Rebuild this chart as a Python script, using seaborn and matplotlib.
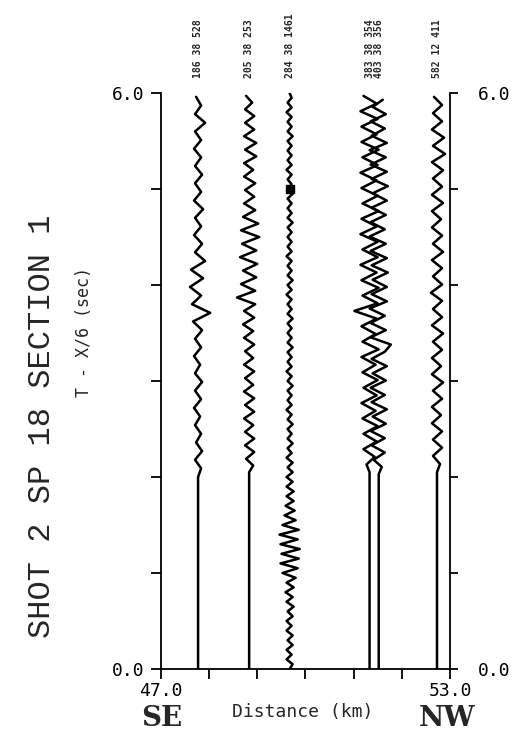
import numpy as np
import pandas as pd
import seaborn as sns
import matplotlib
matplotlib.use("Agg")
import matplotlib.pyplot as plt
from matplotlib.transforms import blended_transform_factory

# trace positions (km) and header labels
trace_km = [47.77, 48.83, 49.67, 51.33, 51.52, 52.73]
trace_labels = ["186 38 528", "205 38 253", "284 38 1461",
                "383 38 354", "403 38 356", "582 12 411"]
# time of first wiggle (s) and sample step (s) for each trace
trace_start = [2.00, 2.05, 0.00, 2.05, 2.03, 2.05]
trace_step = [0.09, 0.07, 0.05, 0.08, 0.075, 0.085]

# amplitudes (arbitrary units), read from the section, earliest first
amp_1 = [0, 3, -3, 4, -2, 3, -3, 2, -4, 3,
         -3, 4, -3, 2, -4, 3, -3, 4, -5, 12,
         -6, 3, -8, 5, -7, 7, -3, 4, -4, 3,
         -3, 5, -4, 3, -3, 4, -3, 3, -4, 3,
         -3, 7, -3, 3, -2]
amp_2 = [0, 4, -3, 5, -4, 5, -4, 4, -5, 5,
         -4, 5, -5, 4, -4, 5, -5, 4, -4, 5,
         -5, 4, -6, 5, -5, 6, -12, 6, -8, 7,
         -6, 8, -9, 7, -7, 10, -8, 9, -6, 6,
         -5, 5, -4, 6, -5, 4, -5, 7, -4, 7,
         -5, 5, -4, 5, -4, 3, -3]
amp_3 = [0, 3, -3, 2, -3, 3, -2, 3, -3, 2,
         -3, 3, -2, 4, -3, 3, -4, 4, -3, 6,
         -7, 8, -9, 9, -8, 10, -9, 8, -10, 9,
         -7, 6, -5, 5, -4, 4, -3, 4, -3, 3,
         -3, 3, -2, 3, -3, 2, -2, 3, -2, 2,
         -2, 3, -2, 2, -3, 2, -2, 2, -2, 3,
         -2, 2, -3, 2, -2, 2, -2, 3, -2, 2,
         -2, 2, -2, 3, -2, 2, -2, 2, -3, 2,
         -2, 3, -2, 2, -2, 2, -3, 2, -2, 2,
         -2, 2, -2, 3, -2, 2, -2, 2, -2, 3,
         -2, 2, -2, 2, -3, 2, -2, 2, -2, 2,
         -2, 3, -2, 2, -2, 2, -3, 2, -2, 2,
         0]
amp_4 = [0, -3, 5, -6, 7, -6, 8, -7, 6, -8,
         7, -6, 8, -7, 6, -8, 9, -7, 6, -8,
         7, -15, 8, -7, 9, -8, 7, -9, 8, -7,
         8, -9, 7, -8, 9, -7, 8, -8, 7, -9,
         8, -7, 9, -8, 7, -8, 8, -9, 7, -6]
amp_5 = [0, 3, -5, 6, -7, 6, -8, 7, -6, 8,
         -7, 6, -8, 7, -6, 8, -7, 6, 12, -8,
         7, -8, 6, -9, 8, -7, 8, -6, 9, -7,
         8, -8, 7, -9, 6, -8, 7, -7, 8, -6,
         9, -7, 8, -8, 7, -9, 8, -7, 6, -8,
         7, -6, 4]
amp_6 = [0, 3, -4, 5, -4, 5, -5, 4, -5, 5,
         -4, 6, -5, 4, -5, 5, -4, 6, -5, 5,
         -4, 5, -6, 5, -4, 5, -5, 6, -4, 5,
         -5, 4, -5, 6, -5, 5, -4, 6, -5, 8,
         -4, 7, -5, 5, -4, 5, -3]
trace_amps = [amp_1, amp_2, amp_3, amp_4, amp_5, amp_6]

# picked arrival on the third trace
pick_trace = 2
pick_time = 5.0

GAIN = 0.021  # km per amplitude unit

rows = []
for i, (km, t0, dt, amps) in enumerate(zip(trace_km, trace_start, trace_step, trace_amps)):
    if t0 > 0:
        rows.append((i, km, 0.0))
    for k, a in enumerate(amps):
        rows.append((i, km + GAIN * a, t0 + dt * k))
df = pd.DataFrame(rows, columns=["trace", "x", "t"])

sns.set_style("ticks")
plt.rcParams["font.family"] = ["DejaVu Sans Mono", "DejaVu Sans"]

fig = plt.figure(figsize=(5.15, 7.46), dpi=100)
ax = fig.add_axes([0.3126, 0.1032, 0.5612, 0.7721])

sns.lineplot(data=df, x="x", y="t", units="trace", estimator=None, sort=False,
             color="black", linewidth=1.8, solid_joinstyle="round", ax=ax)
ax.plot(trace_km[pick_trace], pick_time, "s", ms=6, color="black")

ax.set_xlim(47, 53)
ax.set_ylim(0, 6)
ax.set_xlabel("")
ax.set_ylabel("")
for s in ["top", "right"]:
    ax.spines[s].set_visible(False)
for s in ["left", "bottom"]:
    ax.spines[s].set_linewidth(1.3)
    ax.spines[s].set_color("black")

ax.set_xticks(np.arange(47, 54, 1))
ax.set_xticklabels(["47.0", "", "", "", "", "", "53.0"])
ax.set_yticks(np.arange(0, 7, 1))
ax.set_yticklabels(["0.0", "", "", "", "", "", "6.0"])
ax.tick_params(axis="x", direction="out", length=7, width=1.3, pad=2, labelsize=13, colors="black")
ax.tick_params(axis="y", direction="out", length=7, width=1.3, pad=5, labelsize=13, colors="black")

ax2 = ax.twinx()
ax2.set_ylim(0, 6)
for s in ["top", "left", "bottom"]:
    ax2.spines[s].set_visible(False)
ax2.spines["right"].set_linewidth(1.3)
ax2.spines["right"].set_color("black")
ax2.set_yticks(np.arange(0, 7, 1))
ax2.set_yticklabels(["0.0", "", "", "", "", "", "6.0"])
ax2.tick_params(axis="y", direction="out", length=6, width=1.3, pad=14, labelsize=13, colors="black")

# header labels above each trace
trans = blended_transform_factory(ax.transData, fig.transFigure)
for km, lab in zip(trace_km, trace_labels):
    ax.text(km, 0.895, lab, transform=trans, rotation=90, ha="center", va="bottom",
            fontsize=7, fontweight="bold")

fig.text(0.082, 0.428, "SHOT 2 SP 18 SECTION 1", rotation=90, ha="center", va="center",
         fontsize=23, family="Liberation Mono")
fig.text(0.163, 0.555, "T - X/6 (sec)", rotation=90, ha="center", va="center", fontsize=12)
fig.text(0.588, 0.045, "Distance (km)", ha="center", va="center", fontsize=13)
fig.text(0.313, 0.037, "SE", ha="center", va="center", fontsize=20,
         family="DejaVu Serif", fontweight="bold")
fig.text(0.868, 0.037, "NW", ha="center", va="center", fontsize=20,
         family="DejaVu Serif", fontweight="bold")

fig.savefig("out.png", dpi=100)
